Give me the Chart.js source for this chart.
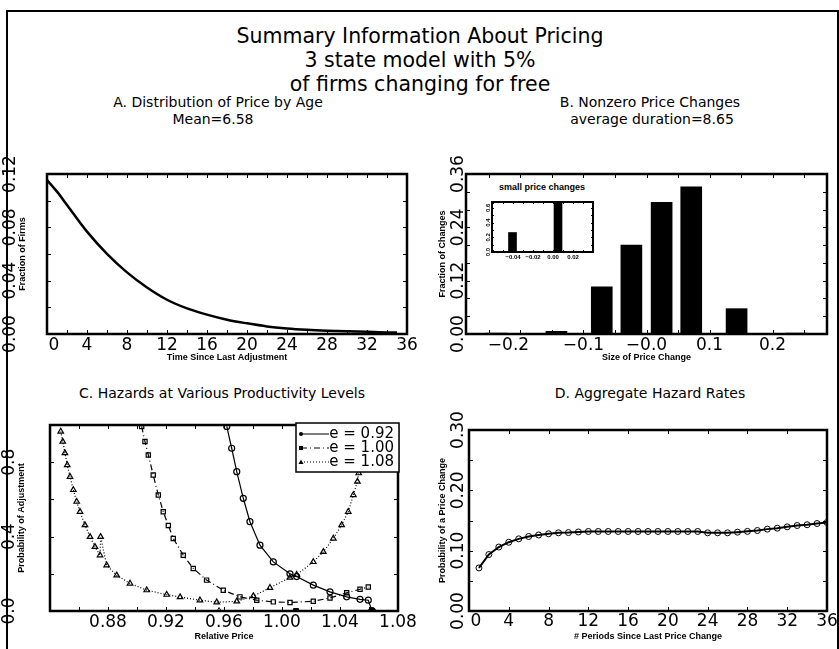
<!DOCTYPE html>
<html lang="en">
<head>
<meta charset="UTF-8">
<title>Summary Information About Pricing</title>
<script src="https://cdn.jsdelivr.net/npm/chart.js"></script>
<style>
    body { margin: 0; background: #fff; }
    #page { position: relative; width: 839px; height: 649px; overflow: hidden; font-family: "DejaVu Sans", sans-serif; }
    #page canvas { position: absolute; left: 0; top: 0; }
    .frame { position: absolute; left: 6px; top: 10px; width: 829px; height: 700px; border: 2px solid #000; }
    .txt { position: absolute; transform: translate(-50%, -50%); white-space: nowrap; line-height: 1; color: #000; }
    .main { font-size: 20.5px; }
    .sub { font-size: 14px; }
    .tiny { font: bold 9px "Liberation Sans", sans-serif; }
</style>
</head>
<body>
<div id="page">
    <div class="frame"></div>
    <div class="txt main" style="left:420px; top:36px">Summary Information About Pricing</div>
    <div class="txt main" style="left:420px; top:60px">3 state model with 5%</div>
    <div class="txt main" style="left:420px; top:84px">of firms changing for free</div>
    <div class="txt sub" style="left:218px; top:102px">A. Distribution of Price by Age</div>
    <div class="txt sub" style="left:213px; top:119px">Mean=6.58</div>
    <div class="txt sub" style="left:650px; top:102px">B. Nonzero Price Changes</div>
    <div class="txt sub" style="left:652px; top:119px">average duration=8.65</div>
    <div class="txt sub" style="left:222px; top:393px">C. Hazards at Various Productivity Levels</div>
    <div class="txt sub" style="left:650px; top:393px">D. Aggregate Hazard Rates</div>
    <div class="txt tiny" style="left:542px; top:187px">small price changes</div>

    <canvas id="chartA" width="839" height="649"></canvas>
    <canvas id="chartB" width="839" height="649"></canvas>
    <canvas id="chartInset" width="839" height="649"></canvas>
    <canvas id="chartC" width="839" height="649"></canvas>
    <canvas id="chartD" width="839" height="649"></canvas>
</div>

<script>
// A. distribution of price by age
const ageX = [0, 1, 2, 4, 6, 8, 10, 12, 14, 16, 18, 20, 22, 24, 26, 28, 30, 32, 34, 35];
const ageY = [0.1155, 0.1068, 0.0968, 0.0768, 0.0601, 0.0462, 0.0349, 0.0257, 0.0192, 0.0145,
              0.0107, 0.0080, 0.0057, 0.0042, 0.0032, 0.0025, 0.0020, 0.0017, 0.0012, 0.0012];
const ageTicks = [0, 4, 8, 12, 16, 20, 24, 28, 32, 36];
const firmTicks = [0, 0.04, 0.08, 0.12];

// B. nonzero price changes
const changeX = [-0.238, -0.143, -0.071, -0.024, 0.024, 0.071, 0.143, 0.238];
const changeY = [0.002, 0.006, 0.106, 0.200, 0.296, 0.331, 0.057, 0.002];
const changeTicks = [-0.2, -0.1, 0, 0.1, 0.2];
const changeLabels = ['\u22120.2', '\u22120.1', '\u22120.0', '0.1', '0.2'];
const changeFracTicks = [0, 0.12, 0.24, 0.36];

// inset: small price changes
const smallX = [-0.0405, -0.0197, -0.005, 0.005, 0.0203];
const smallY = [0.265, 0.01, 0.01, 0.70, 0.01];
const smallTicks = [-0.04, -0.02, 0, 0.02];
const smallLabels = ['\u22120.04', '\u22120.02', '0.00', '0.02'];
const smallFracTicks = [0, 0.2, 0.4, 0.6];

// C. hazards at various productivity levels
const hazX092 = [0.9619, 0.9653, 0.9688, 0.9733, 0.9779, 0.9848, 0.9940, 1.0055, 1.0101, 1.0216,
                 1.0331, 1.0446, 1.0538, 1.0595, 1.0621];
const hazY092 = [0.992, 0.875, 0.749, 0.606, 0.480, 0.354, 0.264, 0.200, 0.185, 0.139,
                 0.103, 0.076, 0.063, 0.058, 0.000];
const hazX100 = [0.9032, 0.9055, 0.9078, 0.9112, 0.9147, 0.9181, 0.9216, 0.9250, 0.9319, 0.9388,
                 0.9480, 0.9595, 0.9710, 0.9826, 0.9940, 1.0055, 1.0216, 1.0331, 1.0446, 1.0538, 1.0595];
const hazY100 = [0.992, 0.911, 0.839, 0.731, 0.624, 0.534, 0.460, 0.390, 0.300, 0.229,
                 0.166, 0.112, 0.076, 0.058, 0.049, 0.046, 0.052, 0.070, 0.098, 0.117, 0.129];
const hazX108 = [0.8474, 0.8488, 0.8503, 0.8519, 0.8538, 0.8561, 0.8584, 0.8607, 0.8641, 0.8676,
                 0.8710, 0.8745, 0.8749, 0.8791, 0.8860, 0.8952, 0.9067, 0.9205, 0.9297, 0.9434,
                 0.9550, 0.9688, 0.9802, 0.9917, 1.0055, 1.0101, 1.0216, 1.0285, 1.0354, 1.0411,
                 1.0457, 1.0492, 1.0520, 1.0529];
const hazY108 = [0.965, 0.911, 0.849, 0.785, 0.722, 0.651, 0.588, 0.534, 0.462, 0.399,
                 0.345, 0.300, 0.399, 0.246, 0.192, 0.148, 0.112, 0.088, 0.075, 0.058,
                 0.047, 0.052, 0.080, 0.125, 0.180, 0.195, 0.264, 0.318, 0.390, 0.462,
                 0.534, 0.624, 0.696, 0.741];
const resetX = [0.9566, 1.0097, 1.0621];
const resetY = [0, 0, 0];
const priceTicks = [0.88, 0.92, 0.96, 1.00, 1.04, 1.08];
const probTicks = [0, 0.4, 0.8];
const legendNames = ['e = 0.92', 'e = 1.00', 'e = 1.08'];

// D. aggregate hazard rates
const periods = [1, 2, 3, 4, 5, 6, 7, 8, 9, 10, 11, 12, 13, 14, 15, 16, 17, 18,
                 19, 20, 21, 22, 23, 24, 25, 26, 27, 28, 29, 30, 31, 32, 33, 34, 35, 36];
const aggHazard = [0.0714, 0.0936, 0.1060, 0.1140, 0.1196, 0.1235, 0.1260, 0.1280, 0.1296, 0.1300,
                   0.1310, 0.1318, 0.1318, 0.1318, 0.1318, 0.1318, 0.1318, 0.1318, 0.1318, 0.1318,
                   0.1318, 0.1318, 0.1318, 0.1296, 0.1296, 0.1296, 0.1307, 0.1320, 0.1334, 0.1357,
                   0.1373, 0.1395, 0.1417, 0.1430, 0.1450, 0.1467];
const periodTicks = [0, 4, 8, 12, 16, 20, 24, 28, 32, 36];
const hazTicks = [0, 0.1, 0.2, 0.3];

const pts = (xs, ys) => xs.map((x, i) => ({ x: x, y: ys[i] }));

// draws the GAUSS style box, inward ticks, labels and axis titles
const gaussFrame = {
    id: 'gaussFrame',
    afterDatasetsDraw(chart, args, o) {
        const ctx = chart.ctx, a = chart.chartArea, x = chart.scales.x, y = chart.scales.y;
        ctx.save();
        ctx.strokeStyle = '#000';
        ctx.lineWidth = 1;
        ctx.beginPath();
        for (let v = x.min + o.xTick[0]; v <= x.max + 1e-9; v += o.xTick[1]) {
            const px = Math.round(x.getPixelForValue(v)) + 0.5;
            ctx.moveTo(px, a.bottom); ctx.lineTo(px, a.bottom - o.len);
            ctx.moveTo(px, a.top); ctx.lineTo(px, a.top + o.len);
        }
        for (let v = y.min + o.yTick[0]; v <= y.max + 1e-9; v += o.yTick[1]) {
            const py = Math.round(y.getPixelForValue(v)) + 0.5;
            ctx.moveTo(a.left, py); ctx.lineTo(a.left + o.len, py);
            ctx.moveTo(a.right, py); ctx.lineTo(a.right - o.len, py);
        }
        ctx.stroke();
        ctx.lineWidth = o.box;
        ctx.strokeRect(a.left, a.top, a.right - a.left, a.bottom - a.top);

        ctx.fillStyle = '#000';
        ctx.textAlign = 'center';
        ctx.textBaseline = 'middle';
        ctx.font = o.font;
        o.xVals.forEach((v, i) => {
            const shift = i === 0 ? (o.firstShift || 0) : 0;
            ctx.fillText(o.xText ? o.xText[i] : v.toFixed(o.xDec), x.getPixelForValue(v) + shift, a.bottom + o.xGap);
        });
        o.yVals.forEach((v, i) => {
            ctx.save();
            ctx.translate(o.yAt, y.getPixelForValue(v));
            ctx.rotate(-Math.PI / 2);
            ctx.fillText(o.yText ? o.yText[i] : v.toFixed(o.yDec), 0, 0);
            ctx.restore();
        });
        if (o.xTitle) {
            ctx.font = o.titleFont;
            ctx.fillText(o.xTitle, (a.left + a.right) / 2, o.xTitleAt);
            ctx.save();
            ctx.translate(o.yTitleAt, (a.top + a.bottom) / 2);
            ctx.rotate(-Math.PI / 2);
            ctx.fillText(o.yTitle, 0, 0);
            ctx.restore();
        }
        ctx.restore();
    }
};

// legend box of panel C
const hazardLegend = {
    id: 'hazardLegend',
    afterDraw(chart) {
        if (chart.canvas.id !== 'chartC') return;
        const ctx = chart.ctx;
        const styles = chart.data.datasets.slice(0, 3);
        ctx.save();
        ctx.fillStyle = '#fff';
        ctx.fillRect(296, 423, 103, 49);
        ctx.strokeStyle = '#000';
        ctx.lineWidth = 1.5;
        ctx.strokeRect(296, 423, 103, 49);
        ctx.font = '15px "DejaVu Sans", sans-serif';
        ctx.textAlign = 'right';
        ctx.textBaseline = 'middle';
        legendNames.forEach((name, i) => {
            const ly = 434 + i * 14;
            ctx.lineWidth = 1;
            ctx.setLineDash(styles[i].borderDash || []);
            ctx.beginPath();
            ctx.moveTo(301, ly); ctx.lineTo(329, ly);
            ctx.stroke();
            ctx.setLineDash([]);
            ctx.fillStyle = '#000';
            if (i === 0) { ctx.beginPath(); ctx.arc(301, ly, 2, 0, 2 * Math.PI); ctx.fill(); }
            if (i === 1) ctx.fillRect(299, ly - 2, 4, 4);
            if (i === 2) { ctx.beginPath(); ctx.moveTo(301, ly - 2.5); ctx.lineTo(303.5, ly + 2); ctx.lineTo(298.5, ly + 2); ctx.fill(); }
            ctx.fillText(name, 394, ly);
        });
        ctx.restore();
    }
};

Chart.register(gaussFrame, hazardLegend);

const tickFont = '17px "DejaVu Sans", sans-serif';
const titleFont = 'bold 9px "Liberation Sans", sans-serif';

function baseOptions(pad, xs, ys, frame) {
    return {
        responsive: false,
        animation: false,
        events: [],
        layout: { padding: pad },
        plugins: { legend: { display: false }, tooltip: { enabled: false }, gaussFrame: frame },
        scales: {
            x: { type: 'linear', min: xs[0], max: xs[1], offset: false, display: false },
            y: { type: 'linear', min: ys[0], max: ys[1], offset: false, display: false }
        }
    };
}

// panel A
new Chart(document.getElementById('chartA'), {
    type: 'line',
    data: {
        datasets: [{
            data: pts(ageX, ageY),
            borderColor: '#000',
            borderWidth: 2.5,
            pointRadius: 0,
            cubicInterpolationMode: 'monotone'
        }]
    },
    options: baseOptions({ left: 47, top: 174, right: 839 - 407, bottom: 649 - 334 }, [0, 36], [0, 0.12], {
        xTick: [0, 2], yTick: [0, 0.02], len: 4, box: 2.5, font: tickFont,
        xVals: ageTicks, xDec: 0, xGap: 12, firstShift: 7, yVals: firmTicks, yDec: 2, yAt: 11,
        xTitle: 'Time Since Last Adjustment', xTitleAt: 358, yTitle: 'Fraction of Firms', yTitleAt: 23, titleFont: titleFont
    })
});

// panel B
new Chart(document.getElementById('chartB'), {
    type: 'bar',
    data: {
        datasets: [{
            data: pts(changeX, changeY),
            backgroundColor: '#000',
            barThickness: 21
        }]
    },
    options: baseOptions({ left: 466, top: 174, right: 839 - 827, bottom: 649 - 334 }, [-0.2865, 0.2865], [0, 0.36], {
        xTick: [0.0365, 0.05], yTick: [0, 0.04], len: 4, box: 2.5, font: tickFont,
        xVals: changeTicks, xText: changeLabels, xGap: 12, firstShift: -12, yVals: changeFracTicks, yDec: 2, yAt: 459,
        xTitle: 'Size of Price Change', xTitleAt: 358, yTitle: 'Fraction of Changes', yTitleAt: 443, titleFont: titleFont
    })
});

// inset of panel B
new Chart(document.getElementById('chartInset'), {
    type: 'bar',
    data: {
        datasets: [{
            data: pts(smallX, smallY),
            backgroundColor: '#000',
            barThickness: 8
        }]
    },
    options: baseOptions({ left: 492, top: 202, right: 839 - 593, bottom: 649 - 252 }, [-0.061, 0.04], [0, 0.68], {
        xTick: [0.001, 0.01], yTick: [0, 0.1], len: 2, box: 2, font: 'bold 6px "Liberation Sans", sans-serif',
        xVals: smallTicks, xText: smallLabels, xGap: 5, yVals: smallFracTicks, yDec: 1, yAt: 488
    })
});

// panel C
new Chart(document.getElementById('chartC'), {
    type: 'line',
    data: {
        datasets: [
            { data: pts(hazX092, hazY092), borderColor: '#000', borderWidth: 1.2, pointStyle: 'circle',
              pointRadius: 3, pointBorderWidth: 1.2, pointBackgroundColor: 'rgba(255,255,255,0)', pointBorderColor: '#000' },
            { data: pts(hazX100, hazY100), borderColor: '#000', borderWidth: 1.2, borderDash: [6, 3, 1, 3], pointStyle: 'rect',
              pointRadius: 3, pointBorderWidth: 1.2, pointBackgroundColor: 'rgba(255,255,255,0)', pointBorderColor: '#000' },
            { data: pts(hazX108, hazY108), borderColor: '#000', borderWidth: 1.2, borderDash: [1, 2], pointStyle: 'triangle',
              pointRadius: 3.2, pointBorderWidth: 1.2, pointBackgroundColor: 'rgba(255,255,255,0)', pointBorderColor: '#000' },
            { data: pts(resetX, resetY), showLine: false, pointStyle: ['triangle', 'rect', 'circle'],
              pointRadius: 3.5, pointBorderWidth: 1, pointBackgroundColor: ['rgba(255,255,255,0)', '#000', '#000'], pointBorderColor: '#000' }
        ]
    },
    options: baseOptions({ left: 50, top: 425, right: 839 - 398, bottom: 649 - 611 }, [0.84, 1.08], [0, 1.0], {
        xTick: [0, 0.02], yTick: [0, 0.2], len: 4, box: 2.5, font: tickFont,
        xVals: priceTicks, xDec: 2, xGap: 12, yVals: probTicks, yDec: 1, yAt: 10,
        xTitle: 'Relative Price', xTitleAt: 637, yTitle: 'Probability of Adjustment', yTitleAt: 22, titleFont: titleFont
    })
});

// panel D
new Chart(document.getElementById('chartD'), {
    type: 'line',
    data: {
        datasets: [{
            data: pts(periods, aggHazard),
            borderColor: '#000',
            borderWidth: 2,
            pointStyle: 'circle',
            pointRadius: 3,
            pointBorderWidth: 1,
            pointBackgroundColor: 'rgba(255,255,255,0)',
            pointBorderColor: '#000'
        }]
    },
    options: baseOptions({ left: 469, top: 430, right: 839 - 827, bottom: 649 - 611 }, [0, 36], [0, 0.3], {
        xTick: [0, 4], yTick: [0, 0.05], len: 4, box: 2.5, font: tickFont,
        xVals: periodTicks, xDec: 0, xGap: 11, firstShift: 7, yVals: hazTicks, yDec: 2, yAt: 459,
        xTitle: '# Periods Since Last Price Change', xTitleAt: 637, yTitle: 'Probability of a Price Change', yTitleAt: 443, titleFont: titleFont
    })
});
</script>
</body>
</html>
